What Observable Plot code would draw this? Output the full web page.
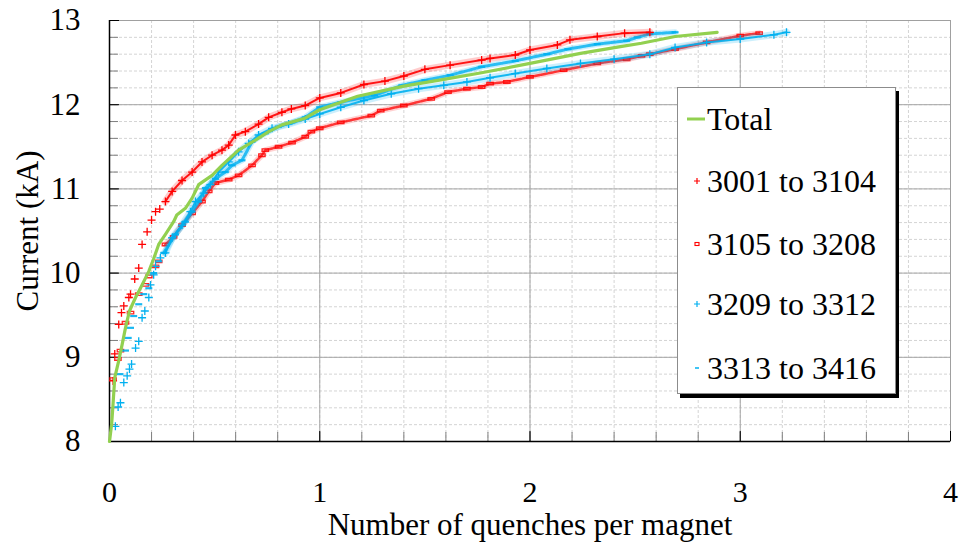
<!DOCTYPE html>
<html>
<head>
<meta charset="utf-8">
<script src="https://cdn.jsdelivr.net/npm/d3@7"></script>
<script src="https://cdn.jsdelivr.net/npm/@observablehq/plot@0.6"></script>
<style>
  html, body { margin: 0; padding: 0; background: #fff; }
  #wrap { position: relative; width: 959px; height: 547px; font-family: "Liberation Serif", "Tinos", "Times New Roman", "DejaVu Serif", serif; }
  #legend {
    position: absolute; left: 677px; top: 87px; width: 219px; height: 307px;
    background: #fff; border: 1px solid #8c8c8c; box-shadow: 3px 4px 0 #000;
    box-sizing: border-box;
  }
  .row { position: absolute; left: 9px; height: 40px; display: flex; align-items: center; font-size: 32px; color: #000; white-space: nowrap; }
  .row svg { width: 20px; height: 20px; flex: none; }
</style>
</head>
<body>
<div id="wrap"></div>
<script>
// Cumulative quenches per magnet [quenches per magnet, current kA]
const total = [
  [0.000, 8.00], [0.010, 8.20], [0.016, 8.41], [0.025, 8.76], [0.044, 8.96], [0.060, 9.15],
  [0.076, 9.35], [0.095, 9.55], [0.124, 9.71], [0.147, 9.82], [0.171, 9.94], [0.187, 10.02],
  [0.210, 10.17], [0.234, 10.34], [0.266, 10.46], [0.305, 10.61], [0.320, 10.69], [0.361, 10.77],
  [0.393, 10.89], [0.424, 11.05], [0.488, 11.16], [0.535, 11.28], [0.614, 11.46], [0.694, 11.58],
  [0.757, 11.68], [0.820, 11.76], [0.930, 11.84], [1.000, 11.94], [1.180, 12.10], [1.400, 12.22],
  [1.590, 12.30], [1.770, 12.38], [2.000, 12.49], [2.240, 12.61], [2.430, 12.69], [2.530, 12.73],
  [2.690, 12.81], [2.890, 12.86]
];

// Magnets 3001 to 3104
const m3001 = [
  [0.017, 8.72], [0.025, 9.04], [0.044, 9.39], [0.057, 9.53], [0.068, 9.61], [0.092, 9.71],
  [0.100, 9.75], [0.120, 9.93], [0.139, 10.06], [0.155, 10.34], [0.179, 10.49], [0.200, 10.63],
  [0.219, 10.73], [0.239, 10.76], [0.266, 10.85], [0.298, 10.97], [0.345, 11.10], [0.393, 11.20],
  [0.440, 11.32], [0.488, 11.40], [0.535, 11.46], [0.567, 11.52], [0.599, 11.64], [0.646, 11.68],
  [0.709, 11.77], [0.757, 11.85], [0.820, 11.91], [0.865, 11.95], [0.931, 11.99], [1.000, 12.08],
  [1.100, 12.14], [1.210, 12.24], [1.310, 12.28], [1.400, 12.34], [1.500, 12.42], [1.620, 12.47],
  [1.770, 12.53], [1.810, 12.55], [1.930, 12.59], [2.000, 12.65], [2.130, 12.71], [2.190, 12.77],
  [2.320, 12.81], [2.450, 12.85], [2.570, 12.86]
];

// Magnets 3105 to 3208
const m3105 = [
  [0.017, 8.74], [0.040, 8.98], [0.052, 9.08], [0.076, 9.41], [0.100, 9.53], [0.139, 9.75],
  [0.171, 9.86], [0.187, 9.96], [0.219, 10.08], [0.234, 10.14], [0.266, 10.34], [0.305, 10.43],
  [0.345, 10.57], [0.393, 10.71], [0.440, 10.85], [0.472, 10.97], [0.504, 11.07], [0.567, 11.11],
  [0.614, 11.16], [0.678, 11.28], [0.725, 11.40], [0.741, 11.46], [0.804, 11.50], [0.868, 11.55],
  [0.931, 11.62], [0.960, 11.68], [1.000, 11.72], [1.100, 11.79], [1.245, 11.87], [1.290, 11.93],
  [1.400, 11.99], [1.530, 12.07], [1.610, 12.15], [1.700, 12.19], [1.770, 12.21], [1.810, 12.25],
  [1.890, 12.27], [2.000, 12.33], [2.160, 12.41], [2.320, 12.49], [2.460, 12.54], [2.530, 12.58],
  [2.570, 12.60], [2.690, 12.66], [2.840, 12.74], [3.000, 12.82], [3.090, 12.85]
];

// Magnets 3209 to 3312
const m3209 = [
  [0.028, 8.18], [0.041, 8.41], [0.052, 8.46], [0.068, 8.70], [0.084, 8.78], [0.095, 8.86],
  [0.105, 8.92], [0.124, 9.11], [0.139, 9.19], [0.155, 9.47], [0.168, 9.55], [0.187, 9.71],
  [0.195, 9.86], [0.210, 9.98], [0.219, 10.08], [0.242, 10.18], [0.266, 10.24], [0.298, 10.42],
  [0.345, 10.57], [0.385, 10.73], [0.409, 10.85], [0.448, 10.95], [0.480, 11.05], [0.519, 11.20],
  [0.567, 11.32], [0.614, 11.44], [0.662, 11.54], [0.709, 11.64], [0.773, 11.72], [0.852, 11.77],
  [0.931, 11.83], [1.000, 11.89], [1.100, 11.97], [1.210, 12.05], [1.340, 12.13], [1.470, 12.19],
  [1.590, 12.23], [1.700, 12.27], [1.810, 12.32], [1.930, 12.37], [2.080, 12.43], [2.240, 12.49],
  [2.400, 12.54], [2.570, 12.60], [2.690, 12.68], [2.840, 12.74], [3.000, 12.78], [3.160, 12.83],
  [3.220, 12.86]
];

// Magnets 3313 to 3416
const m3313 = [
  [0.050, 8.80], [0.076, 9.08], [0.089, 9.23], [0.100, 9.35], [0.115, 9.49], [0.139, 9.63],
  [0.163, 9.75], [0.187, 9.82], [0.210, 10.00], [0.234, 10.14], [0.258, 10.24], [0.314, 10.46],
  [0.361, 10.61], [0.393, 10.73], [0.424, 10.85], [0.456, 11.01], [0.504, 11.12], [0.551, 11.20],
  [0.583, 11.28], [0.630, 11.34], [0.678, 11.56], [0.741, 11.66], [0.804, 11.74], [0.868, 11.79],
  [0.931, 11.85], [1.000, 11.97], [1.100, 12.03], [1.260, 12.11], [1.390, 12.23], [1.500, 12.29],
  [1.620, 12.35], [1.770, 12.45], [1.930, 12.52], [2.080, 12.60], [2.180, 12.66], [2.320, 12.72],
  [2.460, 12.76], [2.510, 12.80], [2.570, 12.84], [2.690, 12.86]
];

const xTicks = [0, 1, 2, 3, 4];
const yTicks = [8, 9, 10, 11, 12, 13];
const xMinor = d3.range(0, 4.001, 0.2);
const yMinor = d3.range(8, 13.001, 0.2);

const red = "#ff0000";
const blue = "#00b0f0";
const green = "#92d050";
const serif = '"Liberation Serif", "Tinos", "Times New Roman", "DejaVu Serif", serif';

// Marker shapes: "+" and short dash / small box
const plusSym = { draw(ctx, size) { const r = Math.sqrt(size / Math.PI); ctx.moveTo(-r, 0); ctx.lineTo(r, 0); ctx.moveTo(0, -r); ctx.lineTo(0, r); } };
const boxSym = { draw(ctx, size) { const r = Math.sqrt(size / Math.PI); ctx.rect(-r, -r * 0.4, 2 * r, r * 0.8); } };
const dashSym = { draw(ctx, size) { const r = Math.sqrt(size / Math.PI); ctx.moveTo(-r, 0); ctx.lineTo(r, 0); } };

const dense = (d) => d[0] >= 0.25;
const X = d => d[0], Y = d => d[1];

const chart = Plot.plot({
  width: 959,
  height: 547,
  marginLeft: 109,
  marginRight: 9,
  marginTop: 20,
  marginBottom: 106,
  x: { domain: [0, 4] },
  y: { domain: [8, 13] },
  style: { fontFamily: serif, fontSize: "31px", background: "#fff", color: "#000" },
  marks: [
    Plot.gridX(xMinor, { stroke: "#d4d4d4", strokeOpacity: 1, strokeDasharray: "3,2" }),
    Plot.gridY(yMinor, { stroke: "#d4d4d4", strokeOpacity: 1, strokeDasharray: "3,2" }),
    Plot.gridX(xTicks, { stroke: "#a6a6a6", strokeOpacity: 1 }),
    Plot.gridY(yTicks, { stroke: "#a6a6a6", strokeOpacity: 1 }),
    Plot.frame({ stroke: "#a0a0a0" }),
    // inward tick marks
    Plot.axisX(xMinor, { tickSize: -9, text: null, label: null, stroke: "#7f7f7f" }),
    Plot.axisY(yMinor, { tickSize: -9, text: null, label: null, stroke: "#7f7f7f" }),
    Plot.axisX(xTicks, { tickSize: -10, text: null, label: null, stroke: "#000" }),
    Plot.axisY(yTicks, { tickSize: -10, text: null, label: null, stroke: "#000" }),
    Plot.ruleX([0], { stroke: "#000", strokeWidth: 1.5 }),
    Plot.ruleY([8], { stroke: "#000", strokeWidth: 1.5 }),
    Plot.axisX(xTicks, { tickSize: 0, tickPadding: 39, fontSize: 30, fontFamily: serif, tickFormat: d => String(d), label: null }),
    Plot.axisX(xTicks, { text: null, tickSize: 0, fontSize: 31, fontFamily: serif, label: "Number of quenches per magnet", labelArrow: "none", labelAnchor: "center", labelOffset: 93 }),
    Plot.axisY(yTicks, { tickSize: 0, tickPadding: 29, fontSize: 31, fontFamily: serif, tickFormat: d => String(d), label: "Current (kA)", labelArrow: "none", labelAnchor: "center", labelOffset: 94 }),

    // 3105 to 3208 (red boxes)
    Plot.line(m3105.filter(dense), { x: X, y: Y, stroke: red, strokeWidth: 6, strokeOpacity: 0.18 }),
    Plot.line(m3105.filter(dense), { x: X, y: Y, stroke: red, strokeWidth: 2.5, strokeOpacity: 0.75, strokeDasharray: "5,1.5" }),
    Plot.dot(m3105, { x: X, y: Y, symbol: boxSym, r: 3.2, stroke: red, fill: "none", strokeWidth: 1.3, strokeOpacity: 0.85 }),

    // 3313 to 3416 (blue dashes)
    Plot.line(m3313.filter(dense), { x: X, y: Y, stroke: blue, strokeWidth: 6, strokeOpacity: 0.2 }),
    Plot.line(m3313.filter(dense), { x: X, y: Y, stroke: blue, strokeWidth: 3, strokeOpacity: 0.8, strokeDasharray: "5,1.5" }),
    Plot.dot(m3313, { x: X, y: Y, symbol: dashSym, r: 3.5, stroke: blue, fill: "none", strokeWidth: 2.2, strokeOpacity: 0.9 }),

    // 3209 to 3312 (blue plus)
    Plot.line(m3209.filter(dense), { x: X, y: Y, stroke: blue, strokeWidth: 7, strokeOpacity: 0.2 }),
    Plot.line(m3209.filter(dense), { x: X, y: Y, stroke: blue, strokeWidth: 2, strokeOpacity: 0.9 }),
    Plot.dot(m3209, { x: X, y: Y, symbol: plusSym, r: 4, stroke: blue, fill: "none", strokeWidth: 1.3 }),

    // 3001 to 3104 (red plus)
    Plot.line(m3001.filter(dense), { x: X, y: Y, stroke: red, strokeWidth: 7, strokeOpacity: 0.2 }),
    Plot.line(m3001.filter(dense), { x: X, y: Y, stroke: red, strokeWidth: 2, strokeOpacity: 0.9 }),
    Plot.dot(m3001, { x: X, y: Y, symbol: plusSym, r: 4, stroke: red, fill: "none", strokeWidth: 1.3 }),

    // Total
    Plot.line(total, { x: X, y: Y, stroke: green, strokeWidth: 3.2 })
  ]
});

const wrap = document.getElementById("wrap");
wrap.appendChild(chart);

// Legend box
const entries = [
  { label: "Total", sym: `<line x1="0" y1="10" x2="18" y2="10" stroke="${green}" stroke-width="3"/>` },
  { label: "3001 to 3104", sym: `<path d="M10,7V13M7,10H13" stroke="${red}" stroke-width="1.2" fill="none"/>` },
  { label: "3105 to 3208", sym: `<rect x="8" y="8.5" width="4" height="3" stroke="${red}" stroke-width="1.1" fill="none"/>` },
  { label: "3209 to 3312", sym: `<path d="M10,7V13M7,10H13" stroke="${blue}" stroke-width="1.2" fill="none"/>` },
  { label: "3313 to 3416", sym: `<line x1="8" y1="10" x2="12" y2="10" stroke="${blue}" stroke-width="1.5"/>` }
];
const rowTops = [11, 73, 136, 196, 260];
const legend = document.createElement("div");
legend.id = "legend";
entries.forEach((e, i) => {
  const row = document.createElement("div");
  row.className = "row";
  row.style.top = rowTops[i] + "px";
  row.innerHTML = `<svg viewBox="0 0 20 20">${e.sym}</svg><span>${e.label}</span>`;
  legend.appendChild(row);
});
wrap.appendChild(legend);
</script>
</body>
</html>
